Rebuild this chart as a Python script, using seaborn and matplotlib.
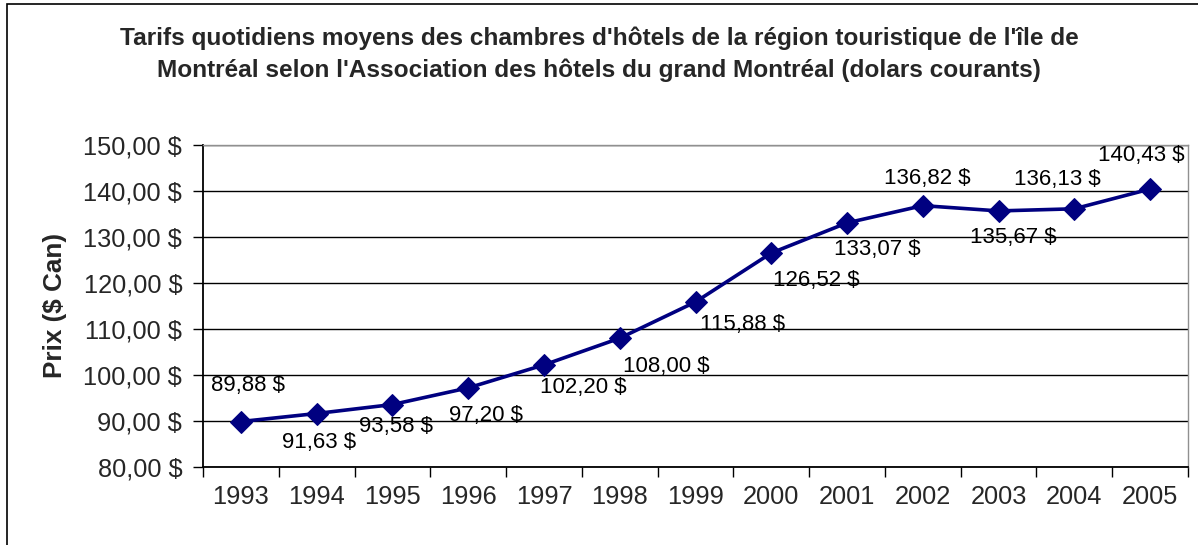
import matplotlib
matplotlib.use("Agg")
import matplotlib.pyplot as plt
import seaborn as sns
import pandas as pd
from matplotlib.patches import Rectangle
from matplotlib.ticker import FixedLocator, FuncFormatter

years = ["1993", "1994", "1995", "1996", "1997", "1998", "1999",
         "2000", "2001", "2002", "2003", "2004", "2005"]
prices = [89.88, 91.63, 93.58, 97.20, 102.20, 108.00, 115.88,
          126.52, 133.07, 136.82, 135.67, 136.13, 140.43]

title = ("Tarifs quotidiens moyens des chambres d'hôtels de la région touristique de l'île de\n"
         "Montréal selon l'Association des hôtels du grand Montréal (dolars courants)")
ylabel = "Prix ($ Can)"

# label offsets in pixels (dx right, dy down) relative to each point
label_offsets = [(7, -36), (2, 29), (4, 22), (18, 28), (39, 23), (47, 28), (47, 23),
                 (45, 27), (30, 27), (5, -27), (15, 27), (-17, -29), (-9, -34)]

sns.set_theme(style="white")
plt.rcParams['font.family'] = ['Liberation Sans', 'DejaVu Sans']

def fmt(v):
    return f"{v:,.2f}".replace(",", " ").replace(".", ",") + " $"

df = pd.DataFrame({"idx": range(len(years)), "price": prices})

fig = plt.figure(figsize=(11.98, 5.45), dpi=100)
fig.patch.set_facecolor("white")
# outer chart border
fig.add_artist(Rectangle((7 / 1198, -0.05), 1.2, 1 - 4 / 545 + 0.05,
                         transform=fig.transFigure, fill=False,
                         edgecolor="black", linewidth=1.2))

ax = fig.add_axes([203 / 1198, 1 - 467 / 545, (1188 - 203) / 1198, (467 - 145) / 545])
sns.lineplot(data=df, x="idx", y="price", ax=ax, color="#000080", linewidth=2.6,
             marker="D", markersize=11, markeredgecolor="#000080", zorder=3)

ax.set_xlim(-0.5, len(years) - 0.5)
ax.set_ylim(80, 150)
ax.yaxis.set_major_locator(FixedLocator(list(range(80, 151, 10))))
ax.yaxis.set_major_formatter(FuncFormatter(lambda v, p: fmt(v)))
ax.grid(axis="y", color="black", linewidth=1.0)
ax.set_axisbelow(True)

# x ticks: marks at category boundaries, labels centered
ax.set_xticks([i - 0.5 for i in range(len(years) + 1)])
ax.set_xticklabels([])
ax.set_xticks(list(range(len(years))), minor=True)
ax.set_xticklabels(years, minor=True)
ax.tick_params(axis="x", which="major", length=7, width=1, color="black", direction="out", bottom=True)
ax.tick_params(axis="x", which="minor", length=0, pad=13, labelsize=18.3)
ax.tick_params(axis="y", length=7, width=1, color="black", direction="out", left=True, pad=8,
               labelsize=18.3)

ax.set_xlabel("")
ax.set_ylabel(ylabel, fontsize=18.8, fontweight="bold", labelpad=12)

for s in ["left", "bottom"]:
    ax.spines[s].set_color("black")
    ax.spines[s].set_linewidth(1.3)
for s in ["top", "right"]:
    ax.spines[s].set_color("#909090")
    ax.spines[s].set_linewidth(1.0)

for i, (v, (dx, dy)) in enumerate(zip(prices, label_offsets)):
    ax.annotate(fmt(v), (i, v), xytext=(dx, -dy), textcoords="offset pixels",
                ha="center", va="center", fontsize=16, color="black", zorder=4)

fig.text(0.5, 1 - 54 / 545, title, ha="center", va="center", fontsize=17.6,
         fontweight="bold", linespacing=1.45)

fig.savefig("out.png", dpi=100, facecolor="white")
